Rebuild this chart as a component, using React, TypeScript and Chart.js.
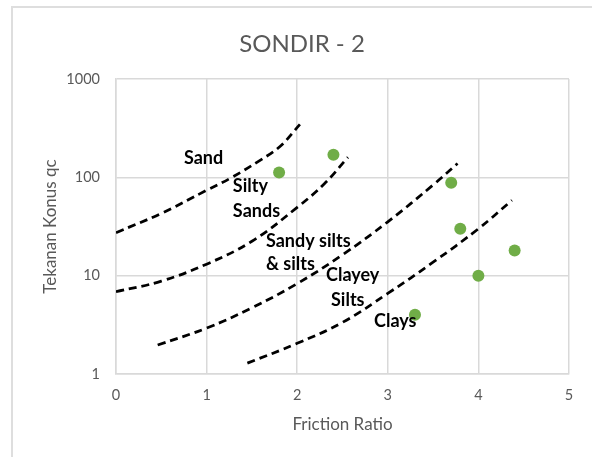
import React, { useEffect, useRef } from "react";
import { Chart, registerables } from "chart.js";

Chart.register(...registerables);

const TITLE = "SONDIR - 2";
const X_TITLE = "Friction Ratio";
const Y_TITLE = "Tekanan Konus qc";
const X_TICKS = [0, 1, 2, 3, 4, 5];
const Y_TICKS = [1, 10, 100, 1000];

// measured points
const pointX = [1.8, 2.4, 3.7, 3.8, 4.4, 4.0, 3.3];
const pointY = [112, 170, 88, 30, 18, 10, 4];

// zone boundary curves
const curve1X = [0, 0.5, 1, 1.26, 1.59, 1.81, 2.03];
const curve1Y = [27.4, 43, 73.8, 97.7, 149, 206, 345];
const curve2X = [0, 0.5, 1, 1.5, 2, 2.3, 2.56];
const curve2Y = [6.86, 8.8, 13.1, 22.4, 49.5, 86, 160];
const curve3X = [0.46, 1, 1.5, 2, 2.5, 3, 3.5, 3.77];
const curve3Y = [1.97, 2.93, 4.71, 8.31, 16.3, 35.3, 83.7, 138];
const curve4X = [1.45, 2, 2.5, 3, 3.5, 4, 4.37];
const curve4Y = [1.29, 2.05, 3.35, 6.6, 13.7, 30, 58.4];

// zone labels
const zoneText = ["Sand", "Silty", "Sands", "Sandy silts", "& silts", "Clayey", "Silts", "Clays"];
const zoneX = [0.75, 1.29, 1.29, 1.655, 1.655, 2.318, 2.373, 2.848];
const zoneY = [156, 81, 45, 22.6, 13.2, 10.1, 5.64, 3.45];

const toXY = (xs: number[], ys: number[]) => xs.map((x, i) => ({ x, y: ys[i] }));

export default function App() {
  const ref = useRef<HTMLCanvasElement>(null);

  useEffect(() => {
    const canvas = ref.current;
    if (!canvas) return;

    const overlay = {
      id: "overlay",
      afterDatasetsDraw(chart: any) {
        const { ctx, scales } = chart;
        const xs = scales.x;
        const ys = scales.y;
        ctx.save();
        ctx.fillStyle = "#000000";
        ctx.font = "bold 18px Lato";
        ctx.textAlign = "left";
        ctx.textBaseline = "middle";
        zoneText.forEach((t, i) => {
          ctx.fillText(t, xs.getPixelForValue(zoneX[i]), ys.getPixelForValue(zoneY[i]));
        });
        ctx.fillStyle = "#595959";
        ctx.font = "24px Lato";
        ctx.textAlign = "center";
        ctx.fillText(TITLE, 302, 44);
        ctx.restore();
      },
    };

    const lineStyle = {
      type: "line" as const,
      borderColor: "#000000",
      borderWidth: 2.75,
      borderDash: [8, 5],
      borderCapStyle: "butt" as const,
      pointRadius: 0,
      fill: false,
      tension: 0.4,
    };

    const chart = new Chart(canvas, {
      type: "scatter",
      data: {
        datasets: [
          {
            type: "scatter",
            data: toXY(pointX, pointY),
            backgroundColor: "#70AD47",
            borderWidth: 0,
            pointRadius: 6,
          },
          { ...lineStyle, data: toXY(curve1X, curve1Y) },
          { ...lineStyle, data: toXY(curve2X, curve2Y) },
          { ...lineStyle, data: toXY(curve3X, curve3Y) },
          { ...lineStyle, data: toXY(curve4X, curve4Y) },
        ] as any,
      },
      options: {
        animation: false,
        responsive: false,
        maintainAspectRatio: false,
        layout: { padding: { left: 0, right: 23, top: 79, bottom: 0 } },
        plugins: { legend: { display: false }, tooltip: { enabled: false }, title: { display: false } },
        scales: {
          x: {
            type: "linear",
            min: 0,
            max: 5,
            afterBuildTicks: (s: any) => {
              s.ticks = X_TICKS.map((v) => ({ value: v }));
            },
            afterFit: (s: any) => {
              s.height = 83;
            },
            grid: { color: "#D9D9D9", lineWidth: 1.5, drawTicks: false },
            border: { color: "#D9D9D9", width: 1.5 },
            ticks: { color: "#595959", font: { family: "Lato", size: 14.5 }, padding: 13 },
            title: {
              display: true,
              text: X_TITLE,
              color: "#595959",
              font: { family: "Lato", size: 17 },
              padding: { top: 0, bottom: 22 },
            },
          },
          y: {
            type: "logarithmic",
            min: 1,
            max: 1000,
            afterBuildTicks: (s: any) => {
              s.ticks = Y_TICKS.map((v) => ({ value: v }));
            },
            afterFit: (s: any) => {
              s.width = 116;
            },
            grid: { color: "#D9D9D9", lineWidth: 1.5, drawTicks: false },
            border: { color: "#D9D9D9", width: 1.5 },
            ticks: {
              color: "#595959",
              font: { family: "Lato", size: 14.5 },
              padding: 16,
              callback: (v: any) => String(v),
            },
            title: {
              display: true,
              text: Y_TITLE,
              color: "#595959",
              font: { family: "Lato", size: 17 },
              padding: { top: 40, bottom: 0 },
            },
          },
        },
      },
      plugins: [overlay],
    });

    return () => chart.destroy();
  }, []);

  return (
    <div style={{ position: "fixed", left: 0, top: 0, width: 592, height: 457, background: "#ffffff" }}>
      <div
        style={{
          position: "absolute",
          left: 11,
          top: 6,
          width: 700,
          height: 600,
          borderLeft: "2px solid #DEDEDE",
          borderTop: "2px solid #DEDEDE",
        }}
      />
      <canvas ref={ref} width={592} height={457} style={{ position: "absolute", left: 0, top: 0 }} />
    </div>
  );
}
